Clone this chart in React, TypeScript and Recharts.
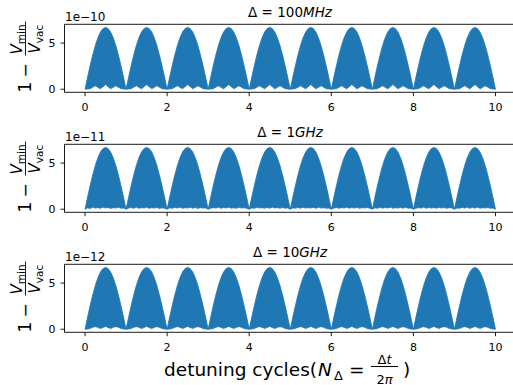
import { Area, AreaChart, ReferenceLine, XAxis, YAxis } from "recharts";

// x runs from 0 to 10 detuning cycles, sampled every 1/16 cycle
const SAMPLE_STEP = 1 / 16;

const xTicks = [0, 2, 4, 6, 8, 10];
const yTicks = [0, 5];
const panelTitles = ["100MHz", "1GHz", "10GHz"];
const offsetLabels = ["1e\u221210", "1e\u221211", "1e\u221212"];

// upper envelope, in units of the panel's offset (same shape in every panel)
const upperEnvelope = [
  0, 1.31, 2.56, 3.72, 4.74, 5.57, 6.19, 6.57, 6.7, 6.57, 6.19, 5.57, 4.74, 3.72, 2.56, 1.31,
  0, 1.31, 2.56, 3.72, 4.74, 5.57, 6.19, 6.57, 6.7, 6.57, 6.19, 5.57, 4.74, 3.72, 2.56, 1.31,
  0, 1.31, 2.56, 3.72, 4.74, 5.57, 6.19, 6.57, 6.7, 6.57, 6.19, 5.57, 4.74, 3.72, 2.56, 1.31,
  0, 1.31, 2.56, 3.72, 4.74, 5.57, 6.19, 6.57, 6.7, 6.57, 6.19, 5.57, 4.74, 3.72, 2.56, 1.31,
  0, 1.31, 2.56, 3.72, 4.74, 5.57, 6.19, 6.57, 6.7, 6.57, 6.19, 5.57, 4.74, 3.72, 2.56, 1.31,
  0, 1.31, 2.56, 3.72, 4.74, 5.57, 6.19, 6.57, 6.7, 6.57, 6.19, 5.57, 4.74, 3.72, 2.56, 1.31,
  0, 1.31, 2.56, 3.72, 4.74, 5.57, 6.19, 6.57, 6.7, 6.57, 6.19, 5.57, 4.74, 3.72, 2.56, 1.31,
  0, 1.31, 2.56, 3.72, 4.74, 5.57, 6.19, 6.57, 6.7, 6.57, 6.19, 5.57, 4.74, 3.72, 2.56, 1.31,
  0, 1.31, 2.56, 3.72, 4.74, 5.57, 6.19, 6.57, 6.7, 6.57, 6.19, 5.57, 4.74, 3.72, 2.56, 1.31,
  0, 1.31, 2.56, 3.72, 4.74, 5.57, 6.19, 6.57, 6.7, 6.57, 6.19, 5.57, 4.74, 3.72, 2.56, 1.31,
  0,
];

// lower envelopes (the zigzag / noise along the bottom of each panel)
const lower100MHz = [
  0, 0.03, 0.06, 0.22, 0.38, 0.2, 0.05, 0.27, 0.5, 0.27, 0.05, 0.2, 0.38, 0.22, 0.06, 0.03,
  0, 0.03, 0.06, 0.22, 0.38, 0.2, 0.05, 0.27, 0.5, 0.27, 0.05, 0.2, 0.38, 0.22, 0.06, 0.03,
  0, 0.03, 0.06, 0.22, 0.38, 0.2, 0.05, 0.27, 0.5, 0.27, 0.05, 0.2, 0.38, 0.22, 0.06, 0.03,
  0, 0.03, 0.06, 0.22, 0.38, 0.2, 0.05, 0.27, 0.5, 0.27, 0.05, 0.2, 0.38, 0.22, 0.06, 0.03,
  0, 0.03, 0.06, 0.22, 0.38, 0.2, 0.05, 0.27, 0.5, 0.27, 0.05, 0.2, 0.38, 0.22, 0.06, 0.03,
  0, 0.03, 0.06, 0.22, 0.38, 0.2, 0.05, 0.27, 0.5, 0.27, 0.05, 0.2, 0.38, 0.22, 0.06, 0.03,
  0, 0.03, 0.06, 0.22, 0.38, 0.2, 0.05, 0.27, 0.5, 0.27, 0.05, 0.2, 0.38, 0.22, 0.06, 0.03,
  0, 0.03, 0.06, 0.22, 0.38, 0.2, 0.05, 0.27, 0.5, 0.27, 0.05, 0.2, 0.38, 0.22, 0.06, 0.03,
  0, 0.03, 0.06, 0.22, 0.38, 0.2, 0.05, 0.27, 0.5, 0.27, 0.05, 0.2, 0.38, 0.22, 0.06, 0.03,
  0, 0.03, 0.06, 0.22, 0.38, 0.2, 0.05, 0.27, 0.5, 0.27, 0.05, 0.2, 0.38, 0.22, 0.06, 0.03,
  0,
];

const lower1GHz = [
  0, 0.14, 0.09, 0.2, 0.12, 0.17, 0.1, 0.22, 0.13, 0.19, 0.09, 0.16, 0.12, 0.21, 0.1, 0.13,
  0, 0.12, 0.18, 0.1, 0.21, 0.11, 0.16, 0.13, 0.2, 0.1, 0.17, 0.12, 0.19, 0.09, 0.15, 0.11,
  0, 0.15, 0.1, 0.19, 0.13, 0.22, 0.1, 0.16, 0.12, 0.2, 0.11, 0.18, 0.09, 0.17, 0.12, 0.14,
  0, 0.11, 0.17, 0.12, 0.2, 0.1, 0.18, 0.13, 0.21, 0.11, 0.15, 0.1, 0.2, 0.12, 0.16, 0.1,
  0, 0.13, 0.1, 0.21, 0.12, 0.16, 0.11, 0.19, 0.1, 0.22, 0.13, 0.17, 0.1, 0.18, 0.11, 0.14,
  0, 0.14, 0.11, 0.18, 0.1, 0.2, 0.12, 0.17, 0.13, 0.19, 0.1, 0.21, 0.12, 0.16, 0.1, 0.12,
  0, 0.12, 0.19, 0.1, 0.17, 0.13, 0.21, 0.11, 0.18, 0.12, 0.2, 0.1, 0.16, 0.13, 0.19, 0.11,
  0, 0.15, 0.1, 0.2, 0.11, 0.18, 0.13, 0.22, 0.1, 0.17, 0.12, 0.19, 0.11, 0.2, 0.1, 0.13,
  0, 0.11, 0.16, 0.12, 0.21, 0.1, 0.19, 0.12, 0.17, 0.11, 0.2, 0.13, 0.18, 0.1, 0.17, 0.12,
  0, 0.13, 0.1, 0.19, 0.12, 0.21, 0.1, 0.18, 0.12, 0.2, 0.11, 0.16, 0.13, 0.19, 0.1, 0.12,
  0,
];

const lower10GHz = [
  0, 0.02, 0.08, 0.2, 0.28, 0.2, 0.08, 0.18, 0.3, 0.18, 0.08, 0.2, 0.28, 0.2, 0.08, 0.02,
  0, 0.02, 0.08, 0.2, 0.28, 0.2, 0.08, 0.18, 0.3, 0.18, 0.08, 0.2, 0.28, 0.2, 0.08, 0.02,
  0, 0.02, 0.08, 0.2, 0.28, 0.2, 0.08, 0.18, 0.3, 0.18, 0.08, 0.2, 0.28, 0.2, 0.08, 0.02,
  0, 0.02, 0.08, 0.2, 0.28, 0.2, 0.08, 0.18, 0.3, 0.18, 0.08, 0.2, 0.28, 0.2, 0.08, 0.02,
  0, 0.02, 0.08, 0.2, 0.28, 0.2, 0.08, 0.18, 0.3, 0.18, 0.08, 0.2, 0.28, 0.2, 0.08, 0.02,
  0, 0.02, 0.08, 0.2, 0.28, 0.2, 0.08, 0.18, 0.3, 0.18, 0.08, 0.2, 0.28, 0.2, 0.08, 0.02,
  0, 0.02, 0.08, 0.2, 0.28, 0.2, 0.08, 0.18, 0.3, 0.18, 0.08, 0.2, 0.28, 0.2, 0.08, 0.02,
  0, 0.02, 0.08, 0.2, 0.28, 0.2, 0.08, 0.18, 0.3, 0.18, 0.08, 0.2, 0.28, 0.2, 0.08, 0.02,
  0, 0.02, 0.08, 0.2, 0.28, 0.2, 0.08, 0.18, 0.3, 0.18, 0.08, 0.2, 0.28, 0.2, 0.08, 0.02,
  0, 0.02, 0.08, 0.2, 0.28, 0.2, 0.08, 0.18, 0.3, 0.18, 0.08, 0.2, 0.28, 0.2, 0.08, 0.02,
  0,
];

const FONT = "DejaVu Sans";
const BLUE = "#1f77b4";
const Y_DOMAIN: [number, number] = [-0.335, 7.035];

type Row = { x: number; lo: number; hi: number };

function buildRows(lower: number[]): Row[] {
  return upperEnvelope.map((hi, i) => ({ x: i * SAMPLE_STEP, lo: lower[i], hi }));
}

const panels = [lower100MHz, lower1GHz, lower10GHz].map(buildRows);

function Panel({ data, top }: { data: Row[]; top: number }) {
  const tickStyle = { fill: "#000", fontSize: 11, fontFamily: FONT };
  return (
    <div style={{ position: "absolute", left: 0, top, width: 530, height: 120 }}>
      <AreaChart
        width={530}
        height={120}
        data={data}
        margin={{ top: 24.3, right: 14, bottom: 0, left: 0 }}
      >
        <XAxis
          type="number"
          dataKey="x"
          domain={[-0.5, 10.5]}
          ticks={xTicks}
          height={27.7}
          tick={tickStyle}
          tickSize={3.9}
          tickMargin={6.5}
          axisLine={{ stroke: "#000", strokeWidth: 0.9 }}
          tickLine={{ stroke: "#000", strokeWidth: 0.9 }}
        />
        <YAxis
          type="number"
          domain={Y_DOMAIN}
          ticks={yTicks}
          width={64.5}
          tick={tickStyle}
          tickSize={3.9}
          tickMargin={5}
          axisLine={{ stroke: "#000", strokeWidth: 0.9 }}
          tickLine={{ stroke: "#000", strokeWidth: 0.9 }}
        />
        <Area
          type="linear"
          dataKey={(d: Row) => [d.lo, d.hi]}
          stroke={BLUE}
          strokeWidth={0.8}
          fill={BLUE}
          fillOpacity={1}
          isAnimationActive={false}
          dot={false}
          activeDot={false}
        />
        <ReferenceLine y={Y_DOMAIN[1]} stroke="#000" strokeWidth={0.9} />
      </AreaChart>
    </div>
  );
}

function YLabel({ offsetY }: { offsetY: number }) {
  // drawn horizontally, then turned a quarter turn so it reads upward
  const bottom = 92.5 + offsetY;
  return (
    <g transform="rotate(-90)" fontFamily={FONT} fill="#000">
      <text x={-bottom} y={30.5} fontSize={17}>
        1
      </text>
      <text x={-bottom + 15} y={30.5} fontSize={17}>
        {"\u2212"}
      </text>
      <line x1={-bottom + 37} x2={-bottom + 71} y1={25.5} y2={25.5} stroke="#000" strokeWidth={0.9} />
      <text x={-bottom + 38} y={22} fontSize={15} fontStyle="italic">
        V
        <tspan fontStyle="normal" fontSize={10.5} dy={3}>
          min
        </tspan>
      </text>
      <text x={-bottom + 39} y={40} fontSize={15} fontStyle="italic">
        V
        <tspan fontStyle="normal" fontSize={10.5} dy={3}>
          vac
        </tspan>
      </text>
    </g>
  );
}

function Overlay() {
  return (
    <svg
      width={513}
      height={385}
      style={{ position: "absolute", left: 0, top: 0, pointerEvents: "none" }}
    >
      {panelTitles.map((t, i) => (
        <g key={t} fontFamily={FONT} fill="#000">
          <text x={290} y={16.7 + i * 120} fontSize={13.5} textAnchor="middle">
            {"\u0394 = "}
            {t.replace(/[A-Za-z]+$/, "")}
            <tspan fontStyle="italic">{t.match(/[A-Za-z]+$/)?.[0]}</tspan>
          </text>
          <text x={65} y={20.5 + i * 120} fontSize={12}>
            {offsetLabels[i]}
          </text>
          <YLabel offsetY={i * 120} />
        </g>
      ))}
      <g fontFamily={FONT} fill="#000">
        <text x={164} y={375.5} fontSize={18.5}>
          detuning cycles(
        </text>
        <text x={318} y={375.5} fontSize={18.5} fontStyle="italic">
          N
        </text>
        <text x={334} y={379.5} fontSize={13}>
          {"\u0394"}
        </text>
        <text x={349} y={375.5} fontSize={18.5}>
          =
        </text>
        <line x1={371} x2={398} y1={366.5} y2={366.5} stroke="#000" strokeWidth={1} />
        <text x={384.5} y={363.5} fontSize={13} textAnchor="middle">
          {"\u0394"}
          <tspan fontStyle="italic">t</tspan>
        </text>
        <text x={384.5} y={383.5} fontSize={13} textAnchor="middle">
          2<tspan fontStyle="italic">{"\u03c0"}</tspan>
        </text>
        <text x={403} y={375.5} fontSize={18.5}>
          )
        </text>
      </g>
    </svg>
  );
}

export default function App() {
  return (
    <div
      style={{
        position: "absolute",
        left: 0,
        top: 0,
        width: 513,
        height: 385,
        overflow: "hidden",
        background: "#fff",
        fontFamily: FONT,
      }}
    >
      {panels.map((rows, i) => (
        <Panel key={i} data={rows} top={i * 120} />
      ))}
      <Overlay />
    </div>
  );
}
